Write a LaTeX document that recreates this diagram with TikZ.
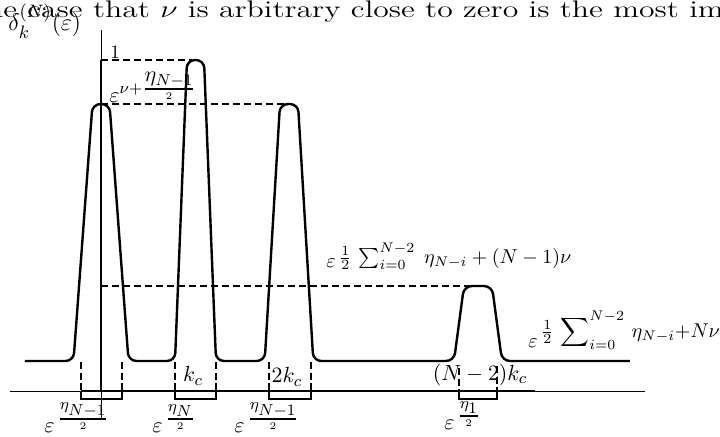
\documentclass[tikz,border=0pt]{standalone}
\usepackage{amsmath}
\tikzset{
  curve/.style={line width=1.2pt, line join=round, rounded corners=4pt},
  thinaxis/.style={line width=0.45pt},
  thickaxis/.style={line width=1.1pt},
  level/.style={line width=1pt, dash pattern=on 3.5pt off 2pt},
  tickline/.style={line width=1pt, dash pattern=on 3.5pt off 1.8pt},
  bracket/.style={line width=1.1pt},
  lab/.style={inner sep=0pt, font=\fontsize{11}{13}\selectfont},
  smalllab/.style={inner sep=0pt, font=\fontsize{10}{12}\selectfont},
}
\newcommand{\barfrac}[2]{\genfrac{}{}{0.9pt}{}{#1}{#2}}
\begin{document}
\begin{tikzpicture}[x=0.5pt,y=-0.5pt]
\useasboundingbox (0,0) rectangle (720,436);
\clip (0,0) rectangle (720,436);
% running text of the page
\node[lab, anchor=base west, font=\fontsize{12}{14}\selectfont, xscale=1.32, transform shape] (toptext) at (-26.5,17)
  {the case that $\nu$ is arbitrary close to zero is the most important};
% axes
\coordinate (xl) at (10,391);
\coordinate (xr) at (645,391);
\coordinate (xa) at (81,391);
\coordinate (xb) at (535,391);
\coordinate (yt) at (101,30);
\coordinate (yb) at (101,420);
\coordinate (ya) at (101,60);
\coordinate (yo) at (101,391);
\draw[thinaxis] (xl) -- (xr);
\draw[thickaxis] (xa) -- (xb);
\draw[thinaxis] (yt) -- (yb);
\draw[thickaxis] (ya) -- (yo);
% dashed levels
\draw[level] (101,60) -- (192,60);
\draw[level] (101,104) -- (284,104);
\draw[level] (101,286) -- (470,286);
% the curve
\draw[curve] (25,361) -- (73.5,361) -- (92.5,104) -- (109.5,104) -- (128.5,361)
  -- (175,361) -- (187,60) -- (204,60) -- (216,361)
  -- (264.7,361) -- (280,104) -- (298,104) -- (313.3,361)
  -- (454,361) -- (464,286) -- (492,286) -- (502,361) -- (630,361);
% dashed ticks
\foreach \x in {81,122,175,216,269,311} \draw[tickline] (\x,362) -- (\x,391);
\draw[tickline] (459,368) -- (459,398);
\draw[tickline] (497,366) -- (497,398);
% brackets
\draw[bracket] (81,391) -- (81,399) -- (122,399) -- (122,391);
\draw[bracket] (175,391) -- (175,399) -- (216,399) -- (216,391);
\draw[bracket] (269,391) -- (269,399) -- (311,399) -- (311,391);
\draw[bracket] (459,391) -- (459,399) -- (497,399) -- (497,391);
% labels
\node[lab, anchor=base west, font=\fontsize{13}{15}\selectfont] (ylab) at (8,30) {$\delta_k^{(N)}(\varepsilon)$};
\node[lab, font=\fontsize{9.5}{11}\selectfont] (one) at (115,52) {1};
\node[lab, anchor=base west] (lev1) at (109,102) {$\varepsilon^{\nu+\barfrac{\textstyle\eta_{N-1}}{2}}$};
\node[smalllab, anchor=base west] (lev2) at (326,267) {$\varepsilon\raisebox{2pt}{$\,\frac{1}{2}\,\sum_{i=0}^{N-2}\;\eta_{N-i}+(N-1)\nu$}$};
\node[smalllab, anchor=base west] (lev3) at (528,347) {$\varepsilon\raisebox{5pt}{$\,\frac{1}{2}\,\displaystyle\sum\nolimits_{i=0}^{N-2}\,\textstyle\eta_{N-i}{+}N\nu$}$};
\node[lab] (kc1) at (193,376) {$k_c$};
\node[lab] (kc2) at (287,377) {$2k_c$};
\node[lab] (kc3) at (480,375) {$(N-2)k_c$};
\node[lab, anchor=base west] (e1) at (44,432) {$\varepsilon^{\,\barfrac{\scriptstyle\eta_{\scriptstyle N-1}}{2}}$};
\node[lab, anchor=base west] (e2) at (152,432) {$\varepsilon^{\,\barfrac{\scriptstyle\eta_{\scriptstyle N}}{2}}$};
\node[lab, anchor=base west] (e3) at (234,432) {$\varepsilon^{\,\barfrac{\scriptstyle\eta_{\scriptstyle N-1}}{2}}$};
\node[lab, anchor=base west] (e4) at (444,429) {$\varepsilon^{\,\barfrac{\scriptstyle\eta_{\scriptstyle 1}}{2}}$};
\end{tikzpicture}
\end{document}
